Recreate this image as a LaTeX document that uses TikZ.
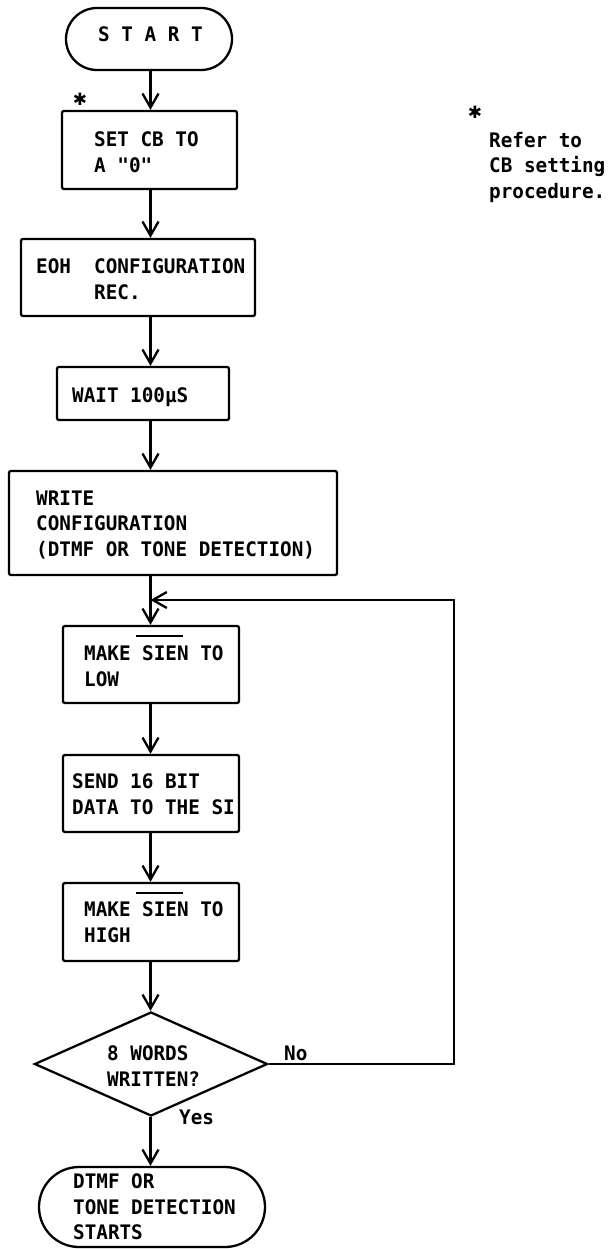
\documentclass[tikz,border=0pt]{standalone}
\usepackage{fontspec}
\setmonofont{DejaVu Sans Mono}[FakeStretch=0.965]
\newfontfamily\symf{DejaVu Sans}
\usetikzlibrary{arrows.meta,shapes.geometric}
\newcommand{\tf}{\ttfamily\bfseries\fontsize{20}{25.5}\selectfont}
\begin{document}
\begin{tikzpicture}[x=1pt,y=-1pt,line width=2.3pt,
  box/.style={draw,rounded corners=2pt,inner sep=0pt},
  term/.style={draw,inner sep=0pt},
  txt/.style={inner sep=0pt,align=left,anchor=west,font=\tf},
  starmark/.style={inner sep=0pt,font=\symf\bfseries\fontsize{17}{17}\selectfont},
  arr/.style={-{Straight Barb[length=14pt,width=16pt]}}]
\useasboundingbox (0,0) rectangle (608,1249);
\coordinate (axis) at (150.5,0);
% shapes
\node[term,rounded corners=31pt,minimum width=166pt,minimum height=62pt] (start) at (149,39) {};
\node[box,minimum width=175pt,minimum height=78pt] (setcb) at (149.5,150) {};
\node[box,minimum width=234pt,minimum height=77pt] (eoh) at (138,277.5) {};
\node[box,minimum width=172pt,minimum height=53pt] (wait) at (143,393.5) {};
\node[box,minimum width=328pt,minimum height=104pt] (write) at (173,523) {};
\node[box,minimum width=176pt,minimum height=77pt] (low) at (151,664.5) {};
\node[box,minimum width=176pt,minimum height=77pt] (send) at (151,793.5) {};
\node[box,minimum width=176pt,minimum height=78pt] (high) at (151,922) {};
\node[draw,diamond,inner sep=0pt,minimum width=233pt,minimum height=104pt] (dec) at (151,1064) {};
\node[term,rounded corners=40pt,minimum width=226pt,minimum height=80pt] (end) at (152,1207) {};
% texts
\node[txt,anchor=base west] (startt) at (97,42) {S T A R T};
\node[txt] (setcbt) at (93,152) {SET CB TO\\A "0"};
\node[txt] (eoht) at (35,279) {EOH\ \ CONFIGURATION\\\phantom{EOH\ \ }REC.};
\node[txt,anchor=base west] (waitt) at (71,402) {WAIT 100μS};
\node[txt] (writet) at (35,525) {WRITE\\CONFIGURATION\\(DTMF OR TONE DETECTION)};
\node[txt] (lowt) at (83,666) {MAKE SIEN TO\\LOW};
\node[txt] (sendt) at (71,794) {SEND 16 BIT\\DATA TO THE SI};
\node[txt] (hight) at (83,922) {MAKE SIEN TO\\HIGH};
\node[txt] (dect) at (106,1066) {8 WORDS\\WRITTEN?};
\node[txt] (endt) at (72,1207) {DTMF OR\\TONE DETECTION\\STARTS};
\node[txt,anchor=base west] (no) at (283,1060) {No};
\node[txt,anchor=base west] (yes) at (178,1124) {Yes};
\node[starmark] (star1) at (80,99) {✱};
\node[starmark] (star2) at (475,112) {✱};
\node[txt] (note) at (488,167) {Refer to\\CB setting\\procedure.};
% overlines
\draw[line width=1.8pt] (136,636) -- (183,636);
\draw[line width=1.8pt] (136,893) -- (183,893);
% connectors
\draw[arr] (start.south -| axis) -- (setcb.north -| axis);
\draw[arr] (setcb.south -| axis) -- (eoh.north -| axis);
\draw[arr] (eoh.south -| axis) -- (wait.north -| axis);
\draw[arr] (wait.south -| axis) -- (write.north -| axis);
\draw[arr] (write.south -| axis) -- (low.north -| axis);
\draw[arr] (low.south -| axis) -- (send.north -| axis);
\draw[arr] (send.south -| axis) -- (high.north -| axis);
\draw[arr] (high.south -| axis) -- (dec.north -| axis);
\draw[arr] (dec.south -| axis) -- (end.north -| axis);
\coordinate (loopturn) at (454,600);
\draw[arr] (dec.east) -| (loopturn) -- (axis |- loopturn);
\end{tikzpicture}
\end{document}
